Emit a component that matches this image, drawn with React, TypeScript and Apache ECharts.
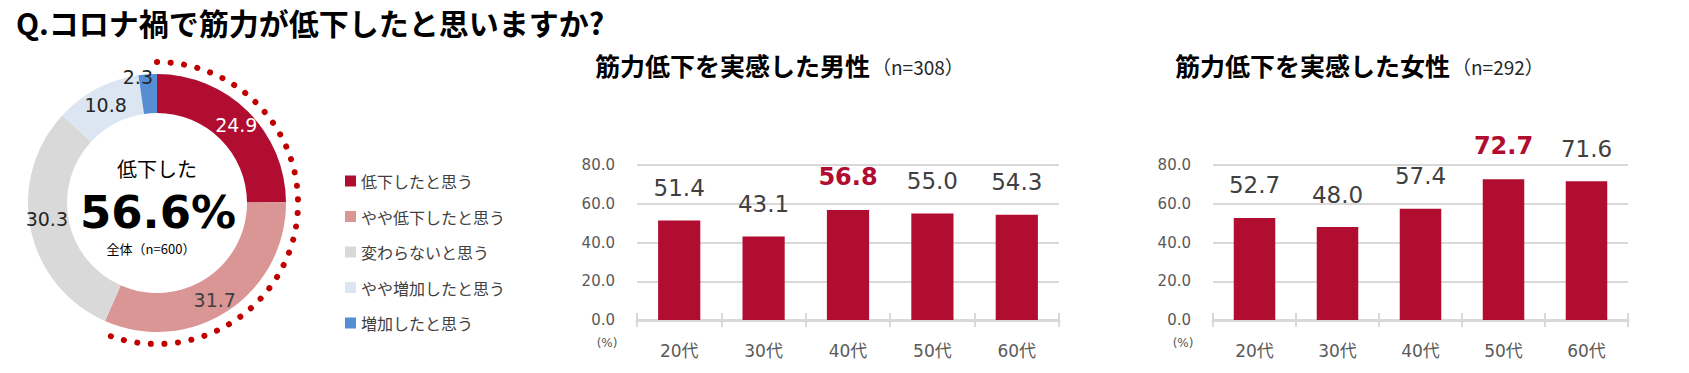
import React, { useEffect, useRef } from "react";
import * as echarts from "echarts";

const ageCategories = ["20代", "30代", "40代", "50代", "60代"];
const maleValues = [51.4, 43.1, 56.8, 55.0, 54.3];
const femaleValues = [52.7, 48.0, 57.4, 72.7, 71.6];
const maleHighlightIndex = 2;
const femaleHighlightIndex = 3;
const yTickMin = 0;
const yTickMax = 80;
const yTickStep = 20;

const pieNames = ["低下したと思う", "やや低下したと思う", "変わらないと思う", "やや増加したと思う", "増加したと思う"];
const pieValues = [24.9, 31.7, 30.3, 10.8, 2.3];
const pieColors = ["#B00D30", "#DA9694", "#D9D9D9", "#DCE6F2", "#558ED5"];
const pieLabelColors = ["#FFFFFF", "#404040", "#262626", "#262626", "#262626"];
const pieLabelShift = [[0, 2], [-4, 3], [0, -7], [1, 2], [-11, -14]];
const declinedTotalText = "56.6%";
const totalSampleText = "全体（n=600）";

const FONT = "'DejaVu Sans', 'Noto Sans CJK JP', sans-serif";
const JFONT = "'Noto Sans CJK JP', sans-serif";
const BAR = "#B00D30";
const GRID = "#D9D9D9";

function barSeries(values: number[], hi: number, idx: number) {
  return {
    type: "bar",
    xAxisIndex: idx * 2,
    yAxisIndex: idx,
    barWidth: "50%",
    itemStyle: { color: BAR },
    label: {
      show: true,
      position: "top",
      distance: 21,
      fontSize: 23,
      fontFamily: FONT,
      color: "#404040",
      formatter: (p: any) => Number(p.value).toFixed(1),
    },
    data: values.map((v, i) =>
      i === hi
        ? { value: v, label: { color: BAR, fontWeight: "bold", fontSize: 24 } }
        : v
    ),
  };
}

function xAxes(gridIndex: number) {
  return [
    {
      type: "category",
      gridIndex,
      data: ageCategories,
      axisLine: { lineStyle: { color: GRID, width: 3 } },
      axisTick: { show: true, length: 7, lineStyle: { color: GRID, width: 2 } },
      axisLabel: { fontSize: 17, fontFamily: FONT, color: "#595959", margin: 22 },
    },
    {
      type: "category",
      gridIndex,
      position: "bottom",
      data: ageCategories,
      axisLine: { show: false },
      axisTick: { show: true, inside: true, length: 7, lineStyle: { color: GRID, width: 2 } },
      axisLabel: { show: false },
    },
  ];
}

function yAxis(gridIndex: number) {
  return {
    type: "value",
    gridIndex,
    min: yTickMin,
    max: yTickMax,
    interval: yTickStep,
    axisLine: { show: false },
    axisTick: { show: false },
    splitLine: { lineStyle: { color: GRID, width: 2 } },
    axisLabel: {
      fontSize: 15,
      fontFamily: FONT,
      color: "#595959",
      margin: 22,
      formatter: (v: number) => v.toFixed(1),
    },
  };
}

function chartTitle(main: string, n: string, left: number) {
  return {
    left,
    top: 47,
    text: `{a|${main}}{b|${n}}`,
    textStyle: {
      rich: {
        a: { fontSize: 25, fontWeight: "bold", fontFamily: JFONT, color: "#000" },
        b: { fontSize: 19, fontWeight: "normal", fontFamily: JFONT, color: "#262626", padding: [3, 0, 0, 2] },
      },
    },
  };
}

export default function App() {
  const ref = useRef<HTMLDivElement>(null);
  useEffect(() => {
    if (!ref.current) return;
    const chart = echarts.init(ref.current, undefined, { renderer: "svg" });
    const cx = 157;
    const cy = 203;
    const declinedShare = (pieValues[0] + pieValues[1]) / 100;
    chart.setOption({
      animation: false,
      backgroundColor: "#FFFFFF",
      title: [
        {
          left: 11,
          top: 2,
          text: "Q.コロナ禍で筋力が低下したと思いますか?",
          textStyle: { fontSize: 30, fontWeight: "bold", fontFamily: JFONT, color: "#000" },
        },
        chartTitle("筋力低下を実感した男性", "（n=308）", 590),
        chartTitle("筋力低下を実感した女性", "（n=292）", 1170),
      ],
      legend: {
        orient: "vertical",
        left: 340,
        top: 166,
        icon: "rect",
        itemWidth: 11,
        itemHeight: 11,
        itemGap: 15.5,
        selectedMode: false,
        textStyle: { fontSize: 16, lineHeight: 20, fontFamily: JFONT, color: "#404040" },
        data: pieNames,
      },
      grid: [
        { left: 637, right: 630, top: 165, bottom: 53 },
        { left: 1213, right: 61, top: 165, bottom: 53 },
      ],
      xAxis: [...xAxes(0), ...xAxes(1)],
      yAxis: [yAxis(0), yAxis(1)],
      series: [
        {
          type: "pie",
          center: [cx, cy],
          radius: [90, 129],
          startAngle: 90,
          clockwise: true,
          silent: true,
          avoidLabelOverlap: false,
          label: {
            show: true,
            position: "inside",
            fontSize: 19,
            fontFamily: FONT,
            formatter: (p: any) => Number(p.value).toFixed(1),
          },
          labelLine: { show: false },
          labelLayout: (p: any) => {
            const s = pieLabelShift[p.dataIndex] || [0, 0];
            return { dx: s[0], dy: s[1] };
          },
          data: pieValues.map((v, i) => ({
            name: pieNames[i],
            value: v,
            itemStyle: { color: pieColors[i] },
            label: { color: pieLabelColors[i] },
          })),
        },
        barSeries(maleValues, maleHighlightIndex, 0),
        barSeries(femaleValues, femaleHighlightIndex, 1),
      ],
      graphic: [
        {
          type: "arc",
          silent: true,
          shape: {
            cx,
            cy,
            r: 141,
            startAngle: -Math.PI / 2,
            endAngle: -Math.PI / 2 + Math.PI * 2 * declinedShare,
            clockwise: true,
          },
          style: { stroke: "#C00000", lineWidth: 6, lineDash: [0.1, 13.5], lineCap: "round", fill: null },
        },
        {
          type: "text",
          x: cx,
          y: 168,
          style: { text: "低下した", fontSize: 20, fontFamily: JFONT, fill: "#000", align: "center", verticalAlign: "middle" },
        },
        {
          type: "text",
          x: cx + 1,
          y: 212,
          style: { text: declinedTotalText, fontSize: 45, fontWeight: "bold", fontFamily: FONT, fill: "#000", align: "center", verticalAlign: "middle" },
        },
        {
          type: "text",
          x: cx - 6,
          y: 248,
          style: { text: totalSampleText, fontSize: 13, fontFamily: JFONT, fill: "#000", align: "center", verticalAlign: "middle" },
        },
        {
          type: "text",
          x: 607,
          y: 343,
          style: { text: "(%)", fontSize: 12, fontFamily: FONT, fill: "#595959", align: "center", verticalAlign: "middle" },
        },
        {
          type: "text",
          x: 1183,
          y: 343,
          style: { text: "(%)", fontSize: 12, fontFamily: FONT, fill: "#595959", align: "center", verticalAlign: "middle" },
        },
      ],
    });
    return () => chart.dispose();
  }, []);
  return (
    <div
      ref={ref}
      style={{ position: "absolute", left: 0, top: 0, width: 1689, height: 373 }}
    />
  );
}
